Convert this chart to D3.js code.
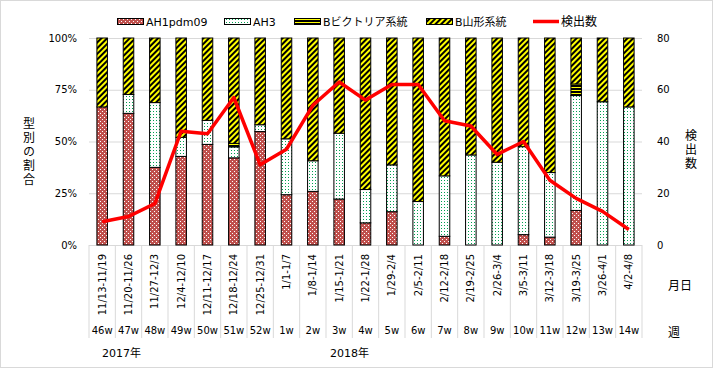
<!DOCTYPE html>
<meta charset="utf-8">
<head>
  <title>型別の割合</title>
</head>
<style>
  body { margin: 0; background: #fff; }
  text { font-family: "DejaVu Sans", "Noto Sans CJK JP", sans-serif; fill: #000; }
  .jp { font-family: "Noto Sans CJK JP", "DejaVu Sans", sans-serif; }
  .vert { writing-mode: vertical-rl; text-orientation: upright; letter-spacing: 2px; }
</style>
<body>
<div id="chart"></div>
<script src="https://d3js.org/d3.v7.min.js"></script>
<script>

// data (percent of each type, detection count)
var dates = ["11/13-11/19", "11/20-11/26", "11/27-12/3", "12/4-12/10", "12/11-12/17", "12/18-12/24", "12/25-12/31",
  "1/1-1/7", "1/8-1/14", "1/15-1/21", "1/22-1/28", "1/29-2/4", "2/5-2/11", "2/12-2/18", "2/19-2/25",
  "2/26-3/4", "3/5-3/11", "3/12-3/18", "3/19-3/25", "3/26-4/1", "4/2-4/8"];
var weeks = ["46w", "47w", "48w", "49w", "50w", "51w", "52w", "1w", "2w", "3w", "4w", "5w", "6w", "7w",
  "8w", "9w", "10w", "11w", "12w", "13w", "14w"];
var ah1pdm09 = [66.7, 63.6, 37.5, 42.8, 48.6, 42.1, 54.8, 24.3, 25.9, 22.2, 10.7, 16.1, 0, 4.2, 0, 0, 5.0, 3.8, 16.7, 0, 0];
var ah3 =      [0, 9.1, 31.3, 9.2, 11.6, 5.3, 3.3, 27.0, 14.8, 31.8, 16.1, 22.6, 21.0, 29.2, 43.5, 40.0, 42.5, 31.2, 55.5, 69.2, 66.7];
var victoria = [0, 0, 0, 0, 0, 1.7, 0, 0, 0, 0, 0, 0, 0, 0, 0, 0, 0, 0, 5.6, 0, 0];
var detected = [9, 11, 16, 44, 43, 57, 31, 37, 54, 63, 56, 62, 62, 48, 46, 35, 40, 25, 18, 13, 6];
var pctTicks = [0, 25, 50, 75, 100];
var countTicks = [0, 20, 40, 60, 80];
var seriesNames = ["AH1pdm09", "AH3", "Bビクトリア系統", "B山形系統"];

var totalW = 714, totalH = 369;
var margin = {top: 38, right: 72, bottom: 124, left: 89},
    width = totalW - margin.left - margin.right,
    height = totalH - margin.top - margin.bottom;

var rows = dates.map(function(d, i) {
  var yam = Math.max(0, 100 - ah1pdm09[i] - ah3[i] - victoria[i]);
  return {date: d, AH1pdm09: ah1pdm09[i], AH3: ah3[i], "Bビクトリア系統": victoria[i], "B山形系統": yam};
});

var svgRoot = d3.select("#chart").append("svg")
  .attr("width", totalW).attr("height", totalH);

// patterns
var defs = svgRoot.append("defs");
var p1 = defs.append("pattern").attr("id", "pAH1").attr("patternUnits", "userSpaceOnUse")
  .attr("width", 4).attr("height", 4);
p1.append("rect").attr("width", 4).attr("height", 4).attr("fill", "#C0504D");
p1.append("rect").attr("x", 1).attr("y", 1).attr("width", 1).attr("height", 1).attr("fill", "#fff");
p1.append("rect").attr("x", 3).attr("y", 3).attr("width", 1).attr("height", 1).attr("fill", "#fff");

var p2 = defs.append("pattern").attr("id", "pAH3").attr("patternUnits", "userSpaceOnUse")
  .attr("width", 3).attr("height", 3);
p2.append("rect").attr("width", 3).attr("height", 3).attr("fill", "#fff");
p2.append("rect").attr("x", 1).attr("y", 1).attr("width", 1).attr("height", 1).attr("fill", "#00A050");

var p3 = defs.append("pattern").attr("id", "pVic").attr("patternUnits", "userSpaceOnUse")
  .attr("width", 4).attr("height", 3);
p3.append("rect").attr("width", 4).attr("height", 3).attr("fill", "#000");
p3.append("rect").attr("y", 1).attr("width", 4).attr("height", 1).attr("fill", "#FFFF00");

var p4 = defs.append("pattern").attr("id", "pYam").attr("patternUnits", "userSpaceOnUse")
  .attr("width", 4).attr("height", 4).attr("patternTransform", "rotate(45)");
p4.append("rect").attr("width", 4).attr("height", 4).attr("fill", "#FFFF00");
p4.append("rect").attr("width", 2).attr("height", 4).attr("fill", "#000");

var fills = {"AH1pdm09": "url(#pAH1)", "AH3": "url(#pAH3)", "Bビクトリア系統": "url(#pVic)", "B山形系統": "url(#pYam)"};

// outer frame
svgRoot.append("rect").attr("x", 0.5).attr("y", 0.5).attr("width", totalW - 2).attr("height", totalH - 2)
  .attr("fill", "none").attr("stroke", "#d9d9d9");

var svg = svgRoot.append("g").attr("transform", "translate(" + margin.left + "," + margin.top + ")");

var x = d3.scaleBand().domain(dates).range([0, width]).paddingInner(0.6).paddingOuter(0.3);
var y = d3.scaleLinear().domain([0, 100]).range([height, 0]);
var y2 = d3.scaleLinear().domain([0, 80]).range([height, 0]);

// gridlines
svg.append("g")
  .call(d3.axisLeft(y).tickValues(pctTicks).tickSize(-width).tickFormat(""))
  .call(function(g) {
    g.select(".domain").remove();
    g.selectAll("line").attr("stroke", "#d9d9d9");
  });

// left axis
svg.append("g")
  .call(d3.axisLeft(y).tickValues(pctTicks).tickSize(0).tickPadding(12).tickFormat(function(d) { return d + "%"; }))
  .call(function(g) {
    g.select(".domain").remove();
    g.selectAll("text").attr("font-size", 10).style("font-family", "DejaVu Sans");
  });

// right axis
svg.append("g").attr("transform", "translate(" + width + ",0)")
  .call(d3.axisRight(y2).tickValues(countTicks).tickSize(0).tickPadding(15))
  .call(function(g) {
    g.select(".domain").remove();
    g.selectAll("text").attr("font-size", 10).style("font-family", "DejaVu Sans");
  });

// category table lines under the plot
var step = x.step();
var bounds = d3.range(dates.length + 1).map(function(i) { return x(dates[0]) - (x.step() - x.bandwidth()) / 2 + i * step; });
svg.append("g").selectAll("line").data(bounds).enter().append("line")
  .attr("x1", function(d) { return d; }).attr("x2", function(d) { return d; })
  .attr("y1", height).attr("y2", height + 93)
  .attr("stroke", "#d9d9d9");

// stacked bars
var stacked = d3.stack().keys(seriesNames)(rows);
svg.append("g").selectAll("g").data(stacked).enter().append("g")
  .attr("fill", function(d) { return fills[d.key]; })
  .selectAll("rect")
  .data(function(d) { return d.filter(function(s) { return s[1] - s[0] > 0; }); })
  .enter().append("rect")
    .attr("x", function(d) { return x(d.data.date); })
    .attr("y", function(d) { return y(d[1]); })
    .attr("height", function(d) { return y(d[0]) - y(d[1]); })
    .attr("width", x.bandwidth())
    .attr("stroke", "#000")
    .attr("stroke-width", 1);

// detection count line
var line = d3.line()
  .x(function(d, i) { return x(dates[i]) + x.bandwidth() / 2; })
  .y(function(d) { return y2(d); });
svg.append("path").datum(detected)
  .attr("d", line)
  .attr("fill", "none")
  .attr("stroke", "#FF0000")
  .attr("stroke-width", 3.5)
  .attr("stroke-linejoin", "round");

// date labels (rotated)
svg.append("g").selectAll("text").data(dates).enter().append("text")
  .attr("transform", function(d) { return "translate(" + (x(d) + x.bandwidth() / 2) + "," + (height + 9) + ") rotate(-90)"; })
  .attr("dy", "0.35em")
  .attr("text-anchor", "end")
  .attr("font-size", 10)
  .text(function(d) { return d; });

// week labels
svg.append("g").selectAll("text").data(weeks).enter().append("text")
  .attr("x", function(d, i) { return x(dates[i]) + x.bandwidth() / 2; })
  .attr("y", height + 89)
  .attr("text-anchor", "middle")
  .attr("font-size", 10)
  .text(function(d) { return d; });

// row titles on the right
svgRoot.append("text").attr("class", "jp").attr("x", 680).attr("y", 290)
  .attr("text-anchor", "middle").attr("font-size", 12).text("月日");
svgRoot.append("text").attr("class", "jp").attr("x", 674).attr("y", 337)
  .attr("text-anchor", "middle").attr("font-size", 12).text("週");

// years
svgRoot.append("text").attr("x", 102).attr("y", 357).attr("font-size", 11).text("2017年");
svgRoot.append("text").attr("x", 330).attr("y", 357).attr("font-size", 11).text("2018年");

// axis titles, upright vertical
svgRoot.append("text").attr("class", "jp vert")
  .attr("x", 29).attr("y", 152)
  .attr("text-anchor", "middle").attr("font-size", 12)
  .text("型別の割合");
svgRoot.append("text").attr("class", "jp vert")
  .attr("x", 691).attr("y", 150)
  .attr("text-anchor", "middle").attr("font-size", 12)
  .text("検出数");

// legend
var legendX = [117, 224, 294, 426];
var legend = svgRoot.append("g");
seriesNames.forEach(function(name, i) {
  legend.append("rect").attr("x", legendX[i] + 0.5).attr("y", 18.5).attr("width", 26).attr("height", 6)
    .attr("fill", fills[name]).attr("stroke", "#000");
  legend.append("text").attr("x", legendX[i] + 29).attr("y", 25.5)
    .attr("font-size", 11).text(name);
});
legend.append("line").attr("x1", 533).attr("x2", 559).attr("y1", 21.5).attr("y2", 21.5)
  .attr("stroke", "#FF0000").attr("stroke-width", 3.5);
legend.append("text").attr("class", "jp").attr("x", 561).attr("y", 26).attr("font-size", 12).text("検出数");

</script>
</body>
</html>
